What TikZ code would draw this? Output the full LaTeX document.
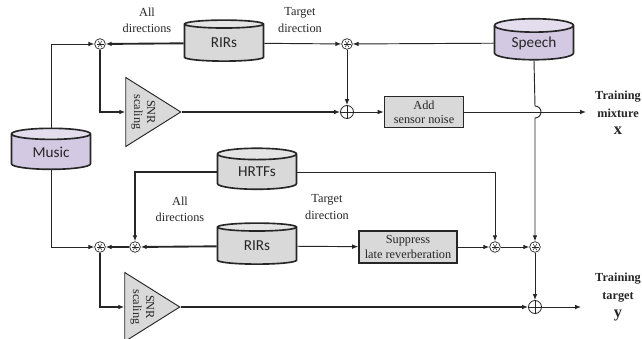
\documentclass[tikz,border=0pt]{standalone}
\usepackage{fontspec}
\setmainfont{Liberation Serif}
\newfontfamily\dbfont{Carlito}
\usetikzlibrary{shapes.geometric,arrows.meta}
\definecolor{boxgray}{HTML}{d9d9d9}
\definecolor{endgray}{HTML}{e4e4e4}
\definecolor{lilac}{HTML}{d3c9e3}
\definecolor{lilacend}{HTML}{e3ddee}
\definecolor{linegray}{HTML}{262626}

\begin{document}
\begin{tikzpicture}[x=0.3mm, y=0.3mm, >={Latex[length=1.8mm,width=1.4mm]}]
    \useasboundingbox (0, 0) rectangle (642, -339);
    \begin{scope}[db/.style={cylinder, shape border rotate=90, draw, line width=1.4pt, aspect=0.3, minimum width=23.7mm, minimum height=12.3mm, inner sep=0pt, cylinder uses custom fill, cylinder body fill=boxgray, cylinder end fill=endgray, font=\dbfont\fontsize{13}{15}\selectfont},
        src/.style={db, cylinder body fill=lilac, cylinder end fill=lilacend},
        conv/.style={circle, draw, fill=white, minimum size=3.2mm, inner sep=0pt, line width=0.6pt, path picture={\foreach \a in {0,60,120} \draw[line width=0.45pt] ([shift={(\a:1.05mm)}]path picture bounding box.center) -- ([shift={(\a+180:1.05mm)}]path picture bounding box.center);}},
        adder/.style={circle, draw, fill=white, minimum size=3.9mm, inner sep=0pt, line width=0.7pt, path picture={\draw[line width=0.7pt] (path picture bounding box.north) -- (path picture bounding box.south) (path picture bounding box.west) -- (path picture bounding box.east);}},
        proc/.style={rectangle, draw, line width=1.4pt, fill=boxgray, align=center, inner sep=0pt, font=\fontsize{10.5}{12}\selectfont},
        amp/.style={isosceles triangle, isosceles triangle stretches, draw, line width=0.8pt, fill=boxgray, inner sep=0pt, minimum width=20.7mm, minimum height=16.5mm},
        note/.style={align=center, font=\fontsize{10.5}{14}\selectfont},
        thin/.style={line width=0.8pt}, thick/.style={line width=1.6pt}, linegray]
        \node[db] (rir1) at (224, -43) {RIRs};
        \node[src] (speech) at (534, -43) {Speech};
        \node[src] (music) at (51, -152) {Music};
        \node[db] (hrtf) at (257, -172) {HRTFs};
        \node[db] (rir2) at (257, -246) {RIRs};
        \node[conv] (cv1) at (100, -44) {};
        \node[conv] (cv2) at (347, -44) {};
        \node[adder] (add1) at (347, -112) {};
        \node[amp, anchor=apex] (snr1) at (182, -112) {};
        \node[proc, minimum width=23.7mm, minimum height=9.3mm] (noise) at (424, -112) {Add\\sensor noise};
        \node[conv] (cv3) at (100, -247) {};
        \node[conv] (cv4) at (135, -247) {};
        \node[proc, minimum width=29.4mm, minimum height=9.6mm] (sup) at (408, -247) {Suppress\\late reverberation};
        \node[conv] (cv5) at (495, -247) {};
        \node[conv] (cv6) at (535, -247) {};
        \node[adder] (add2) at (535, -307) {};
        \node[amp, anchor=apex] (snr2) at (181, -307) {};
        \coordinate (out1) at (586, -112);
        \coordinate (out2) at (581, -307);
        \node[rotate=-90, align=center, font=\fontsize{10.5}{11}\selectfont] at ([xshift=5.4mm]snr1.lower side) {SNR\\scaling};
        \node[rotate=-90, align=center, font=\fontsize{10.5}{11}\selectfont] at ([xshift=5.4mm]snr2.lower side) {SNR\\scaling};
        \node[note] at (147, -20) {All\\directions};
        \node[note] at (300, -20) {Target\\direction};
        \node[note] at (180, -209) {All\\directions};
        \node[note] at (327, -207) {Target\\direction};
        \node[align=center, font=\bfseries\fontsize{10.5}{15}\selectfont] (mix) at (618, -113) {Training\\mixture\\{\fontsize{14}{15}\selectfont x}};
        \node[align=center, font=\bfseries\fontsize{10.5}{15}\selectfont] (tgt) at (618, -297) {Training\\target\\{\fontsize{14}{15}\selectfont y}};
        \begin{scope}[thin]
        \draw[->] (music.north) |- (cv1);
        \path[->] (rir1) edge (cv2);
        \path[->] (speech) edge (cv2);
        \path[->] (cv2) edge (add1);
        \path[->] (add1) edge (noise);
        \path[->] (noise) edge (out1);
        \draw[->] (speech.south) -- (535, -106) arc[start angle=90, end angle=-90, radius=1.8mm] -- (cv6);
        \draw[->] (music.south) |- (cv3);
        \draw[->] (hrtf.east) -| (cv5);
        \path[->] (rir2) edge (sup);
        \path[->] (sup) edge (cv5);
        \path[->] (cv5) edge (cv6);
        \path[->] (cv6) edge (add2);
        \path[->] (add2) edge (out2);
        \end{scope}
        \begin{scope}[thick]
        \path[->] (rir1) edge (cv1);
        \draw[->] (cv1) |- (snr1.lower side);
        \path[->] (snr1.apex) edge (add1);
        \draw[->] (hrtf.west) -| (cv4);
        \path[->] (rir2) edge (cv4);
        \path[->] (cv4) edge (cv3);
        \draw[->] (cv3) |- (snr2.lower side);
        \path[->] (snr2.apex) edge (add2);
        \end{scope}
    \end{scope}
\end{tikzpicture}
\end{document}
